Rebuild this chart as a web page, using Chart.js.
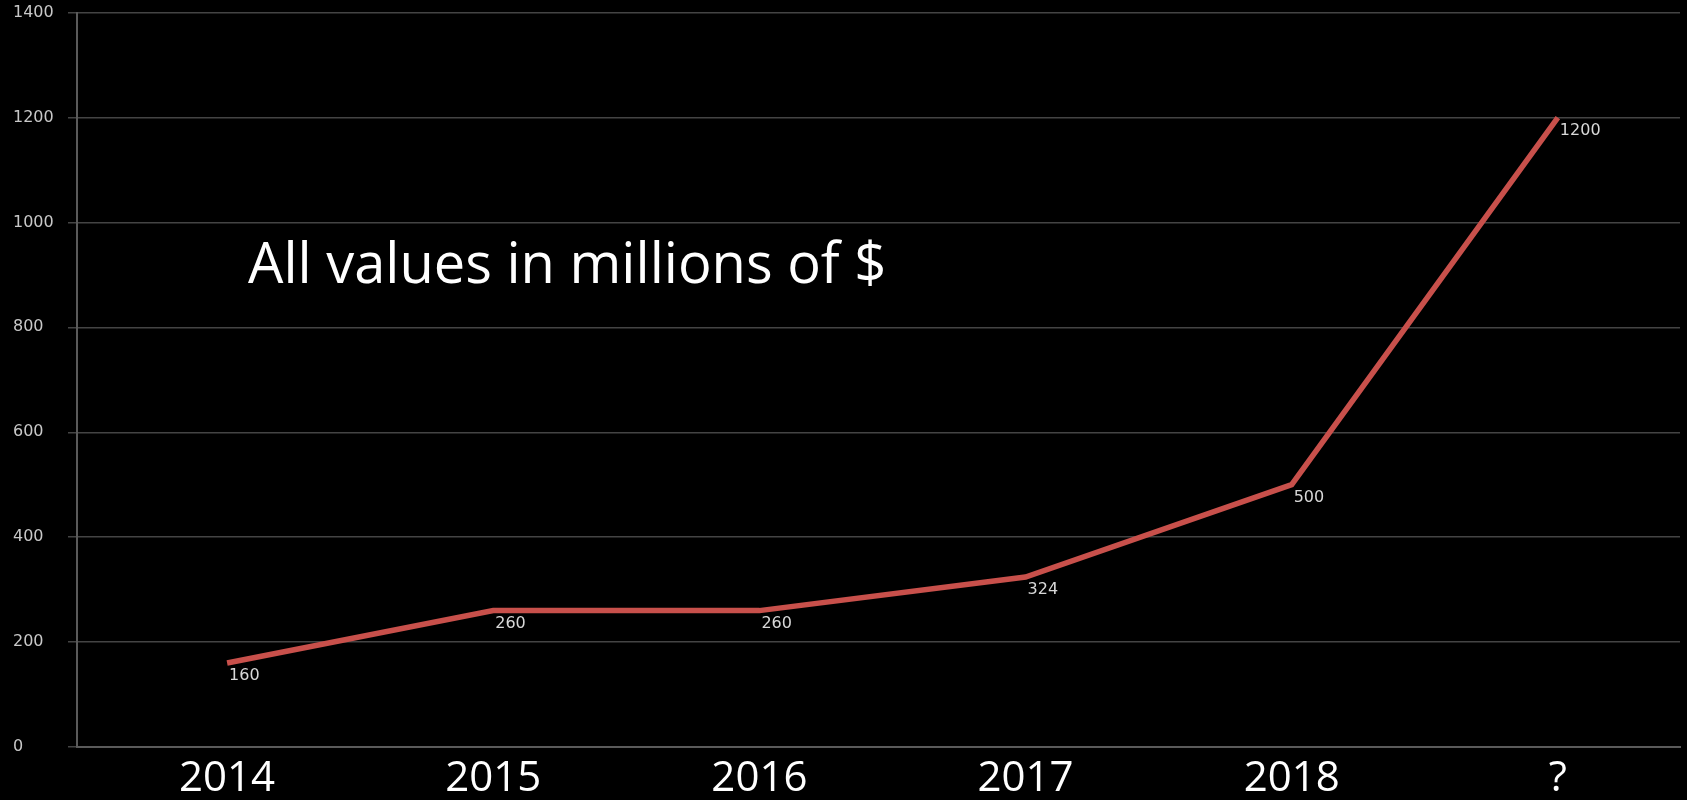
<!DOCTYPE html>
<html>
<head>
<meta charset="utf-8">
<title>All values in millions of $</title>
<script src="https://cdn.jsdelivr.net/npm/chart.js@4.4.1/dist/chart.umd.min.js"></script>
<style>
    html, body { margin: 0; padding: 0; background: #000; }
    #wrap { width: 1687px; height: 800px; position: relative; }
</style>
</head>
<body>
<div id="wrap"><canvas id="growthChart"></canvas></div>
<script>
// Values (millions of $)
const years = ['2014', '2015', '2016', '2017', '2018', '?'];
const revenue = [160, 260, 260, 324, 500, 1200];
const yTicks = [0, 200, 400, 600, 800, 1000, 1200, 1400];
const note = 'All values in millions of $';

// Data labels just below-right of each point
const pointLabels = {
    id: 'pointLabels',
    afterDatasetsDraw(chart) {
        const ctx = chart.ctx;
        const meta = chart.getDatasetMeta(0);
        ctx.save();
        ctx.font = '16px "DejaVu Sans"';
        ctx.fillStyle = '#d8d8d8';
        ctx.textAlign = 'left';
        ctx.textBaseline = 'middle';
        meta.data.forEach((pt, i) => {
            ctx.fillText(String(revenue[i]), pt.x + 2, pt.y + 13);
        });
        ctx.restore();
    }
};

// Big note text inside the plot
const noteText = {
    id: 'noteText',
    afterDraw(chart) {
        const ctx = chart.ctx;
        const area = chart.chartArea;
        ctx.save();
        ctx.font = '56px "Open Sans"';
        ctx.fillStyle = '#ffffff';
        ctx.textAlign = 'left';
        ctx.textBaseline = 'alphabetic';
        ctx.fillText(note, area.left + 171, area.top + 270);
        ctx.restore();
    }
};

const ctx = document.getElementById('growthChart').getContext('2d');
new Chart(ctx, {
    type: 'line',
    data: {
        datasets: [{
            data: revenue.map((v, i) => ({ x: i, y: v })),
            borderColor: '#c8504b',
            borderWidth: 5.5,
            pointRadius: 0,
            pointHoverRadius: 0,
            tension: 0,
            fill: false,
            clip: false
        }]
    },
    options: {
        responsive: true,
        maintainAspectRatio: false,
        animation: false,
        layout: { padding: { left: 13, right: 7, top: 4, bottom: 2 } },
        plugins: {
            legend: { display: false },
            tooltip: { enabled: false }
        },
        scales: {
            x: {
                type: 'linear',
                min: -0.564,
                max: 5.459,
                afterBuildTicks: (axis) => {
                    axis.ticks = years.map((_, i) => ({ value: i }));
                },
                afterFit: (axis) => { axis.height = 51; },
                grid: { display: false, drawTicks: false },
                border: { display: true, color: '#5a5a5a', width: 2 },
                ticks: {
                    callback: (v) => years[v],
                    color: '#ffffff',
                    font: { family: '"Open Sans"', size: 42, lineHeight: 1 },
                    padding: 11,
                    maxRotation: 0,
                    autoSkip: false
                }
            },
            y: {
                min: 0,
                max: 1400,
                afterBuildTicks: (axis) => {
                    axis.ticks = yTicks.map(v => ({ value: v }));
                },
                afterFit: (axis) => { axis.width = 64; },
                grid: { color: '#444444', lineWidth: 1.5, tickLength: 9, drawTicks: true },
                border: { display: true, color: '#5a5a5a', width: 2 },
                ticks: {
                    callback: (v) => String(v),
                    color: '#c8c8c8',
                    font: { family: '"DejaVu Sans"', size: 16 },
                    crossAlign: 'far'
                }
            }
        }
    },
    plugins: [pointLabels, noteText]
});
</script>
</body>
</html>
